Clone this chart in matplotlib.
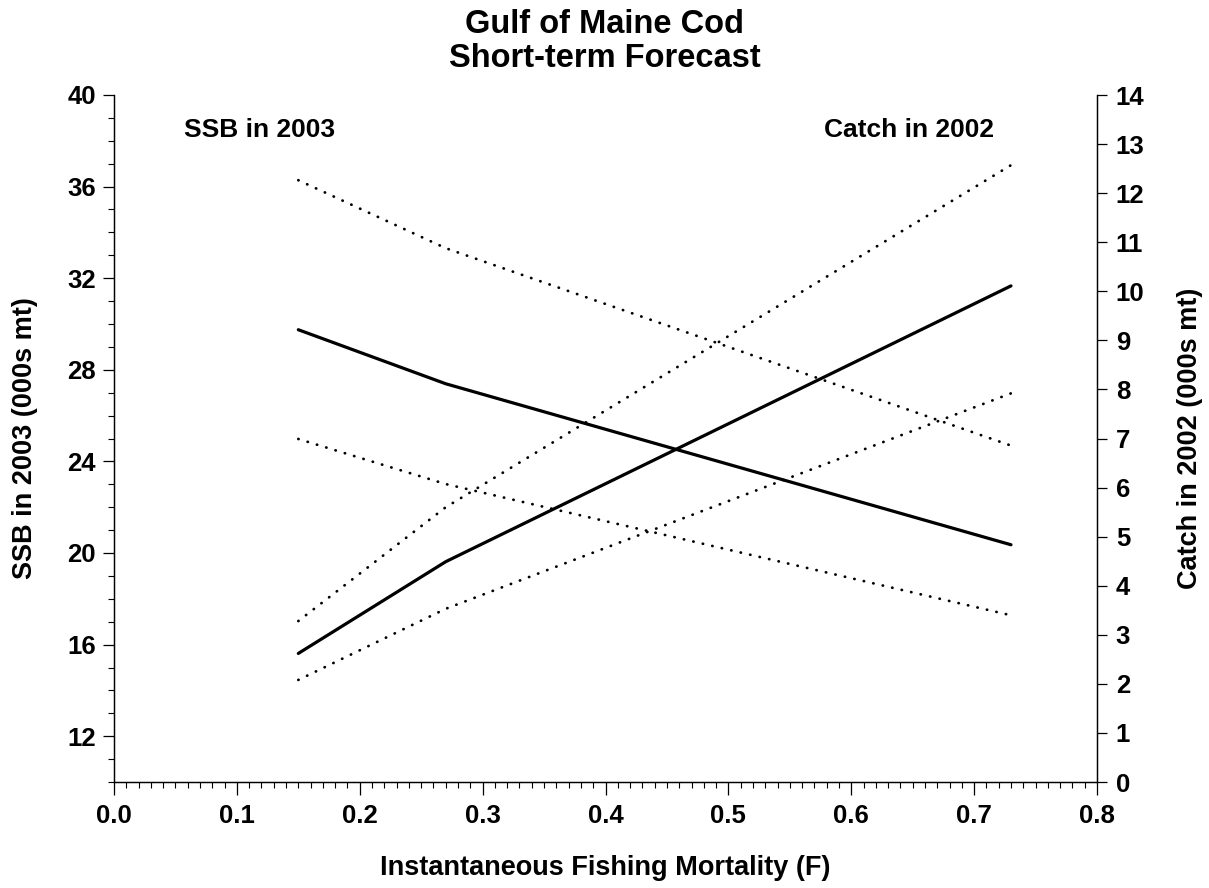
import matplotlib
matplotlib.use("Agg")
import matplotlib.pyplot as plt
from matplotlib.ticker import MultipleLocator, FormatStrFormatter

plt.rcParams['font.family'] = ['Liberation Sans', 'DejaVu Sans']
plt.rcParams['font.weight'] = 'bold'

# Forecast at three fishing mortality levels
f_values = [0.15, 0.27, 0.73]

# SSB in 2003 (000s mt): median and bounds
ssb_mid = [29.75, 27.39, 20.36]
ssb_low = [24.98, 23.01, 17.28]
ssb_high = [36.28, 33.31, 24.69]

# Catch in 2002 (000s mt): median and bounds
catch_mid = [2.62, 4.49, 10.11]
catch_low = [2.08, 3.53, 7.92]
catch_high = [3.28, 5.60, 12.57]

fig = plt.figure(figsize=(12.09, 8.88), dpi=100)
ax = fig.add_axes([114 / 1209, 1 - 782 / 888, 983 / 1209, 687 / 888])
ax2 = ax.twinx()

dotted = (0, (0.1, 3.4))
ax.plot(f_values, ssb_mid, color='black', lw=2.3, solid_capstyle='round')
ax.plot(f_values, ssb_low, color='black', lw=2.0, linestyle=dotted, dash_capstyle='round')
ax.plot(f_values, ssb_high, color='black', lw=2.0, linestyle=dotted, dash_capstyle='round')

ax2.plot(f_values, catch_mid, color='black', lw=2.3, solid_capstyle='round')
ax2.plot(f_values, catch_low, color='black', lw=2.0, linestyle=dotted, dash_capstyle='round')
ax2.plot(f_values, catch_high, color='black', lw=2.0, linestyle=dotted, dash_capstyle='round')

ax.set_xlim(0, 0.8)
ax.set_ylim(10, 40)
ax2.set_ylim(0, 14)

ax.xaxis.set_major_locator(MultipleLocator(0.1))
ax.xaxis.set_minor_locator(MultipleLocator(0.01))
ax.xaxis.set_major_formatter(FormatStrFormatter('%.1f'))
ax.yaxis.set_major_locator(MultipleLocator(4))
ax.yaxis.set_minor_locator(MultipleLocator(1))
ax2.yaxis.set_major_locator(MultipleLocator(1))

for a in (ax, ax2):
    a.spines['top'].set_visible(False)
    for s in a.spines.values():
        s.set_linewidth(0.9)

ax.tick_params(axis='x', which='major', direction='out', length=9, width=0.9, pad=7, labelsize=18.5)
ax.tick_params(axis='x', which='minor', direction='out', length=4.5, width=0.8)
ax.tick_params(axis='y', which='major', direction='out', length=8, width=0.9, pad=5, labelsize=18.5)
ax.tick_params(axis='y', which='minor', direction='out', length=4.3, width=0.8)
ax2.tick_params(axis='y', which='major', direction='out', length=7.5, width=0.9, pad=6, labelsize=18.5)

ax.set_xlabel('Instantaneous Fishing Mortality (F)', fontsize=19.5, fontweight='bold')
ax.set_ylabel('SSB in 2003 (000s mt)', fontsize=19.5, fontweight='bold')
ax2.set_ylabel('Catch in 2002 (000s mt)', fontsize=19.5, fontweight='bold')
ax.xaxis.set_label_coords(0.5, -0.106)
ax.yaxis.set_label_coords(-0.077, 0.5)
ax2.yaxis.set_label_coords(1.081, 0.5)

ax.text(0.1485, 0.949, 'SSB in 2003', transform=ax.transAxes, ha='center', va='center',
        fontsize=19, fontweight='bold')
ax.text(0.8087, 0.949, 'Catch in 2002', transform=ax.transAxes, ha='center', va='center',
        fontsize=19, fontweight='bold')

fig.text(605 / 1209, 1 - 9 / 888, 'Gulf of Maine Cod\nShort-term Forecast', ha='center', va='top',
         fontsize=23.5, fontweight='bold', linespacing=1.12)

fig.savefig('out.png', dpi=100)
